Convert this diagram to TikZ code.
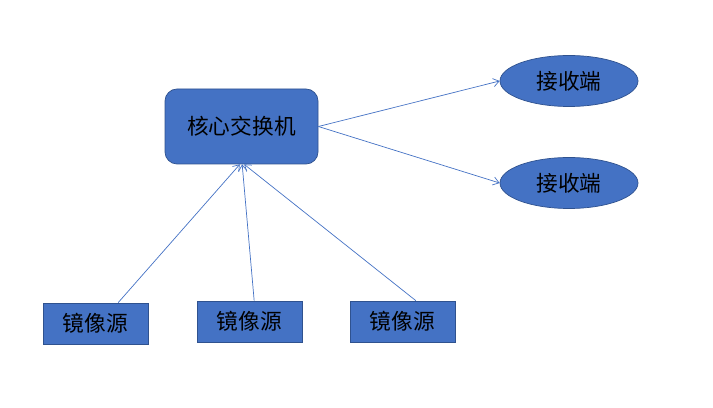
\documentclass[tikz,border=0pt]{standalone}
\usepackage{fontspec}
\newfontfamily\cjk{Noto Sans CJK SC}
\usepackage{tikz}
\usetikzlibrary{shapes.geometric,arrows.meta,positioning}
\definecolor{nodeblue}{HTML}{4472C4}
\definecolor{edgeblue}{HTML}{2F528F}

\begin{document}
\begin{tikzpicture}[
  core/.style={draw=edgeblue, rounded corners=0.36cm, fill=nodeblue,
               minimum height=2.25cm, minimum width=4.59cm,
               font=\cjk\fontsize{18.5}{20}\selectfont, line width=0.6pt},
  recv/.style={ellipse, draw=edgeblue, fill=nodeblue,
               minimum height=1.53cm, minimum width=4.14cm, inner sep=0pt,
               font=\cjk\fontsize{18.5}{20}\selectfont, line width=0.6pt},
  src/.style={draw=edgeblue, fill=nodeblue,
              minimum height=1.23cm, minimum width=3.15cm,
              font=\cjk\fontsize{18.5}{20}\selectfont, line width=0.6pt},
  arrow/.style={-{Straight Barb[length=5pt,width=7pt]}, draw=nodeblue, line width=0.6pt}
]
\useasboundingbox (0,0) rectangle (21.39,12.21);

% Core switch
\node[core] (sw) at (7.245,8.415) {核心交换机};

% Receivers
\node[recv] (rx1) at (17.07,9.78) {接收端};
\node[recv] (rx2) at (17.07,6.72) {接收端};

% Mirror sources
\node[src] (ms1) at (2.865,2.505)  {镜像源};
\node[src] (ms2) at (7.485,2.565)  {镜像源};
\node[src] (ms3) at (12.075,2.565) {镜像源};

% Arrows
\draw[arrow] (sw.east) -- (rx1.west);
\draw[arrow] (sw.east) -- (rx2.west);
\draw[arrow] ([xshift=0.68cm]ms1.north) -- ([xshift=-0.05cm]sw.south);
\draw[arrow] ([xshift=0.14cm]ms2.north) -- ([xshift=0.02cm]sw.south);
\draw[arrow] ([xshift=0.4cm]ms3.north)  -- ([xshift=0.08cm]sw.south);
\end{tikzpicture}
\end{document}
